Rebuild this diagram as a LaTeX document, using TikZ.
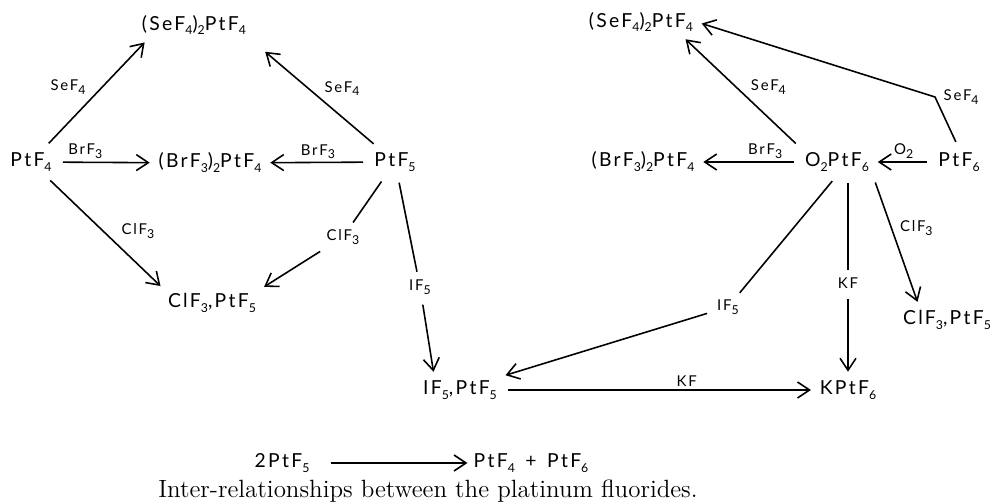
\documentclass[tikz,border=0pt]{standalone}
\usepackage{fontspec}
\usetikzlibrary{arrows.meta}
\newfontfamily\chemfont[LetterSpace=12]{Lato}
\newcommand\low[1]{\raisebox{-0.5ex}{\scriptsize #1}}
\begin{document}
\begin{tikzpicture}[
  x=0.2mm, y=0.2mm,
  chem/.style={font=\chemfont\fontsize{11}{13}\selectfont, inner sep=2pt},
  lab/.style={font=\chemfont\fontsize{8.5}{10}\selectfont, inner sep=1.5pt},
  link/.style={line width=0.9pt, shorten <=1.5mm, shorten >=1mm},
  arr/.style={link, -{Straight Barb[length=2.4mm,width=3.2mm]}}
]
\useasboundingbox (0,0) rectangle (993,-503);

% --- PtF4 / PtF5 side ---
\node[chem] (sel) at (194,-25) {(SeF\low4)\low2PtF\low4};
\node[chem] (pf4) at (31,-162) {PtF\low4};
\node[chem] (brl) at (210,-163) {(BrF\low3)\low2PtF\low4};
\node[chem] (pf5) at (395,-162) {PtF\low5};
\node[chem] (cll) at (212,-303) {ClF\low3,PtF\low5};
\node[chem] (ipf) at (460,-390) {IF\low5,PtF\low5};

% --- PtF6 side ---
\node[chem] (ser) at (641,-22) {(SeF\low4)\low2PtF\low4};
\node[chem] (brr) at (643,-162) {(BrF\low3)\low2PtF\low4};
\node[chem] (opf) at (837,-162) {O\low2PtF\low6};
\node[chem] (pf6) at (959,-162) {PtF\low6};
\node[chem] (clr) at (947,-320) {ClF\low3,PtF\low5};
\node[chem] (kpf) at (848,-390) {KPtF\low6};
\coordinate (bend) at (935,-97);

% labels that break a line
\node[lab] (lcl) at (343,-237) {ClF\low3};
\node[lab] (lif) at (420,-287) {IF\low5};
\node[lab] (lif2) at (728,-307) {IF\low5};
\node[lab] (lkf) at (848,-283) {KF};

\draw[arr] (pf4) -- ([xshift=2mm]sel.south west) node[lab, pos=.45, above left=1pt] {SeF\low4};
\draw[arr] (pf4) -- (brl) node[lab, pos=.3, above] {BrF\low3};
\draw[arr] (pf4) -- (cll.north west) node[lab, pos=.6, above right=1pt] {ClF\low3};
\draw[arr, shorten >=4mm] (pf5) -- (sel.south east) node[lab, pos=.45, above right] {SeF\low4};
\draw[arr] (pf5) -- (brl) node[lab, midway, above] {BrF\low3};

\draw[arr] (pf6) -- (opf) node[lab, midway, above] {O\low2};
\draw[arr] (opf) -- (brr) node[lab, pos=.35, above] {BrF\low3};
\draw[arr] (opf.north west) -- ([xshift=-3mm]ser.south east) node[lab, pos=.45, above right] {SeF\low4};
\draw[arr] (pf6.north) -- (bend) node[lab, right=3pt] {SeF\low4} -- (ser.east);
\draw[arr] (opf.south east) -- ([xshift=4mm]clr.north west) node[lab, pos=.4, right=3pt] {ClF\low3};
\draw[arr] (ipf) -- (kpf) node[lab, pos=.59, above] {KF};

\foreach \a/\l/\b in {(pf5)/(lcl)/(cll.north east), (pf5)/(lif)/{([xshift=3mm]ipf.north west)},
                      (opf.south)/(lif2)/(ipf.north east), {(opf.south -| lkf)}/(lkf)/(kpf)} {
  \draw[link] \a -- \l;
  \draw[arr] \l -- \b;
}

% --- disproportionation ---
\node[chem, inner sep=0.5pt] (dis) at (282,-463) {2PtF\low5};
\node[chem, inner sep=0.5pt] (prd) at (531,-463) {PtF\low4\ \,+\ \,PtF\low6};
\draw[arr, shorten <=4mm, shorten >=1mm] (dis) -- (prd);

\node[font=\fontsize{14.2}{16}\selectfont, inner sep=0pt] (cap) at (428,-491) {Inter-relationships between the platinum fluorides.};
\end{tikzpicture}
\end{document}
